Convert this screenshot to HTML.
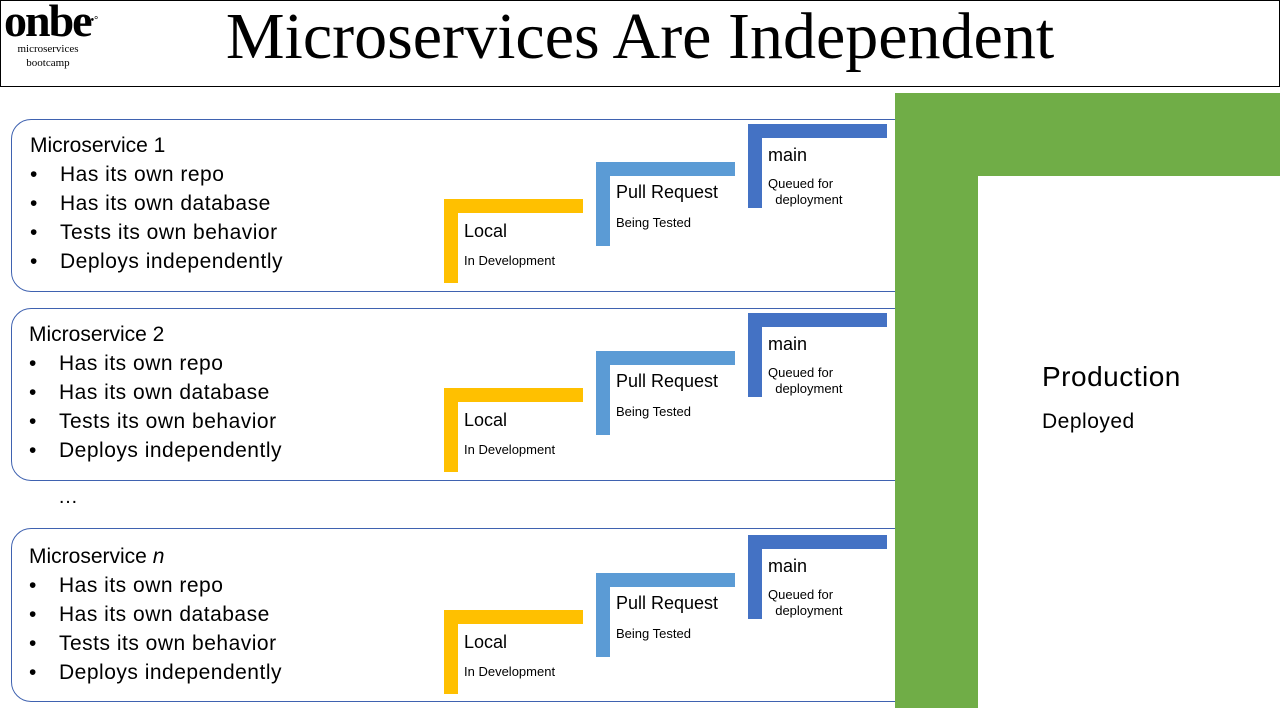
<!DOCTYPE html>
<html><head><meta charset="utf-8"><style>
body{margin:0;width:1280px;height:720px;position:relative;background:#fff;font-family:"Liberation Sans",sans-serif;overflow:hidden}
.a{position:absolute}
.hdr{left:0;top:0;width:1278px;height:85px;border:1px solid #000}
.title{left:0;width:1280px;text-align:center;font-family:"Liberation Serif",serif;font-size:66px;color:#000}
.box{left:11px;width:910px;border:1px solid #3f62b0;border-radius:20px;background:#fff}
.ms{font-size:21px;color:#000;line-height:29px}
.ms ul{margin:0;padding:0;list-style:none}
.ms li{position:relative;padding-left:30px;letter-spacing:0.5px}
.ms li:before{content:"•";position:absolute;left:0}
.L{width:139px;height:84px}
.L .h{position:absolute;left:0;top:0;width:139px;height:14px}
.L .v{position:absolute;left:0;top:0;width:14px;height:84px}
.L .t1{position:absolute;left:20px;font-size:18px;color:#000;white-space:nowrap}
.L .t2{position:absolute;left:20px;font-size:13px;color:#000;white-space:nowrap;line-height:16px}
</style></head><body>
<div class="a hdr"></div>
<div class="a" style="left:4px;top:0;width:120px;height:70px">
<div style="font-family:'Liberation Serif',serif;font-weight:bold;font-size:46px;line-height:42px;letter-spacing:-2px">onbe<span style="font-size:10px;vertical-align:top;letter-spacing:0">•°</span></div>
<div style="font-family:'Liberation Serif',serif;font-size:11px;line-height:14px;text-align:center;width:88px">microservices<br>bootcamp</div>
</div>
<div class="a title" style="top:0px;line-height:74px">Microservices Are Independent</div>

<div class="a" style="left:895px;top:93px;width:385px;height:83px;background:#70ad47"></div>
<div class="a" style="left:895px;top:93px;width:83px;height:615px;background:#70ad47"></div>
<div class="a" style="left:1042px;top:361px;font-size:28px;letter-spacing:0.5px">Production</div>
<div class="a" style="left:1042px;top:410px;font-size:21px;letter-spacing:0.5px">Deployed</div>
<div class="a" style="left:58px;top:486px;font-size:20px">…</div>

<script>
const rows=[{y:119,h:171,tx:30,name:"Microservice 1"},{y:308,h:171,tx:29,name:"Microservice 2"},{y:528,h:172,tx:29,name:"Microservice <i>n</i>"}];
const bullets=["Has its own repo","Has its own database","Tests its own behavior","Deploys independently"];
rows.forEach((r,i)=>{
 const d=i==0?0:(i==1?189:411);
 const box=document.createElement('div');
 box.className='a box';
 box.style.top=r.y+'px';box.style.height=r.h+'px';
 
 
 document.body.insertBefore(box,document.body.firstChild.nextSibling);
 const t=document.createElement('div');
 t.className='a ms';t.style.left=r.tx+'px';t.style.top=(131+d)+'px';
 t.innerHTML='<div>'+r.name+'</div><ul>'+bullets.map(b=>'<li>'+b+'</li>').join('')+'</ul>';
 
 
 document.body.appendChild(t);
 const stages=[{x:444,y:199,c:'#ffc000',a:'Local',s:'In Development',ta:22,ts:54},
  {x:596,y:162,c:'#5b9bd5',a:'Pull Request',s:'Being Tested',ta:20,ts:53},
  {x:748,y:124,c:'#4472c4',a:'main',s:'Queued for<br>&nbsp;&nbsp;deployment',ta:21,ts:52}];
 stages.forEach(s=>{
  const L=document.createElement('div');
  L.className='a L';L.style.left=s.x+'px';L.style.top=(s.y+d)+'px';
  L.innerHTML='<div class="h" style="background:'+s.c+'"></div><div class="v" style="background:'+s.c+'"></div><div class="t1" style="top:'+s.ta+'px">'+s.a+'</div><div class="t2" style="top:'+s.ts+'px">'+s.s+'</div>';
  
  
  document.body.appendChild(L);
 });
});
</script>
</body></html>
